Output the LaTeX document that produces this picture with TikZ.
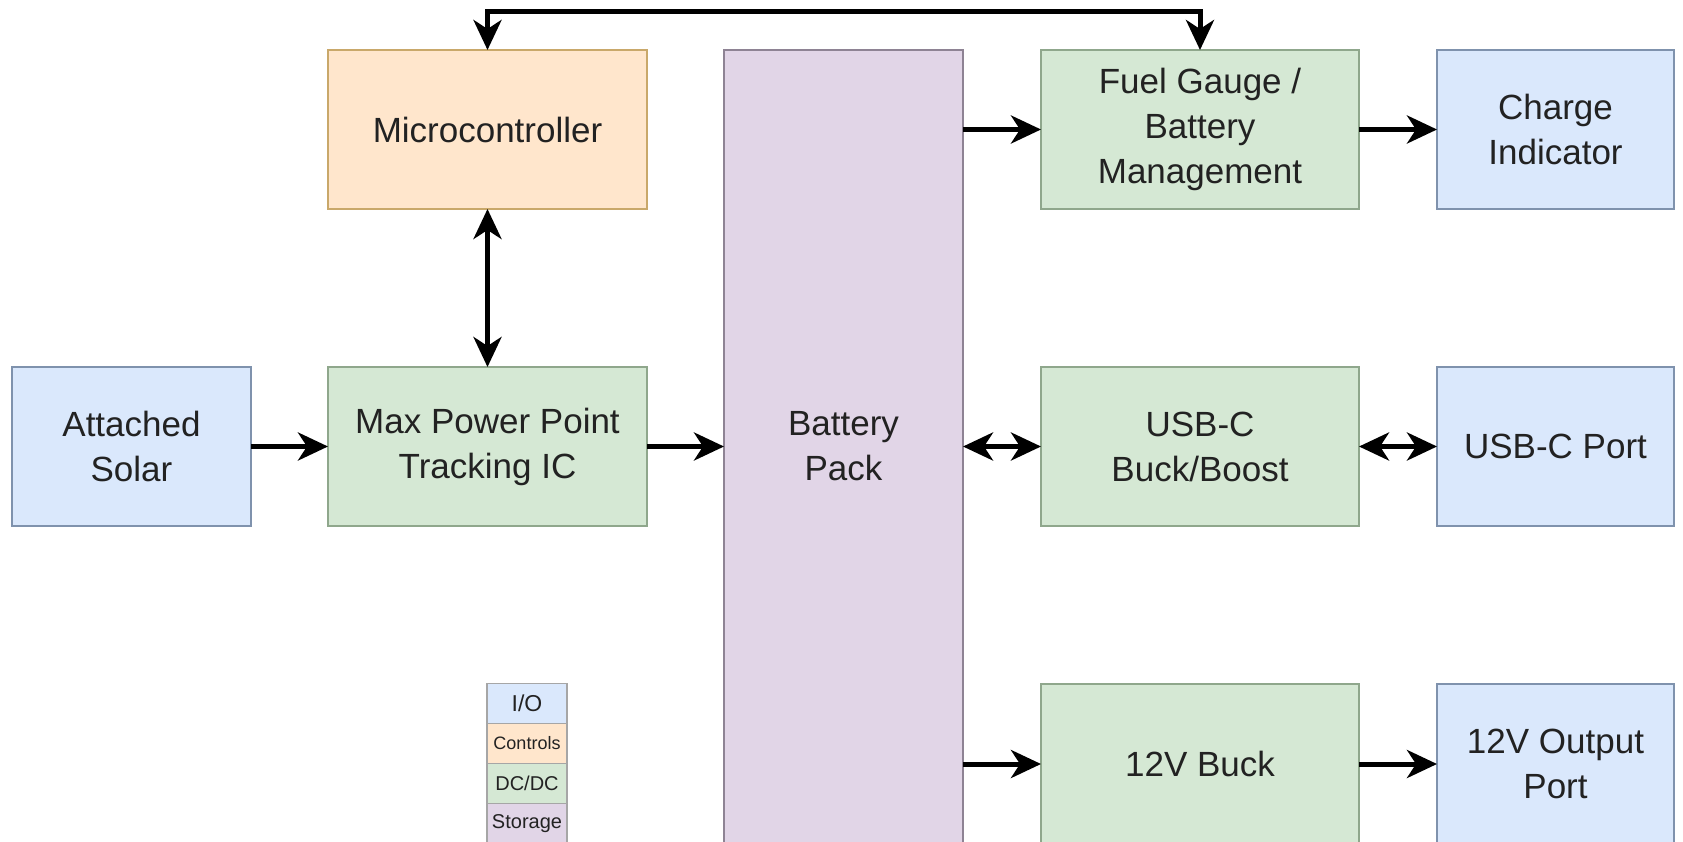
\documentclass[tikz,border=0pt]{standalone}
\usepackage{fontspec}
\setmainfont{Liberation Sans}
\usetikzlibrary{arrows.meta}
\definecolor{iofill}{HTML}{DAE8FC}\definecolor{iodraw}{HTML}{7F92AD}
\definecolor{ctfill}{HTML}{FFE6CC}\definecolor{ctdraw}{HTML}{C9A86A}
\definecolor{dcfill}{HTML}{D5E8D4}\definecolor{dcdraw}{HTML}{8FA78C}
\definecolor{stfill}{HTML}{E1D5E7}\definecolor{stdraw}{HTML}{8E8394}
\definecolor{txt}{HTML}{222222}
\tikzset{
  blk/.style={draw, line width=2pt, inner sep=0pt, outer sep=0pt, align=center,
    text=txt, font=\fontsize{35}{45}\selectfont},
  iob/.style={blk, fill=iofill, draw=iodraw},
  ctb/.style={blk, fill=ctfill, draw=ctdraw},
  dcb/.style={blk, fill=dcfill, draw=dcdraw},
  stb/.style={blk, fill=stfill, draw=stdraw},
  arr/.style={line width=5pt, -{Stealth[length=30pt,width=28pt,inset=9pt]}},
  darr/.style={line width=5pt, {Stealth[length=30pt,width=28pt,inset=9pt]}-{Stealth[length=30pt,width=28pt,inset=9pt]}},
  leg/.style={draw=gray!70, line width=1.5pt, inner sep=0pt, outer sep=0pt,
    minimum width=80pt, minimum height=40pt, text=txt}
}
\begin{document}
\begin{tikzpicture}[x=1pt,y=-1pt]
\useasboundingbox (0,0) rectangle (1683,842);
\begin{scope}
\clip (0,0) rectangle (1683,842);
% row 1
\node[ctb, minimum width=319pt, minimum height=159pt] (micro) at (487.5,129.5) {Microcontroller};
\node[stb, minimum width=239pt, minimum height=796pt] (bat) at (843.5,448) {};
\node[blk, draw=none, fill=none] (batlbl) at (843.5,446.5) {Battery\\Pack};
\node[dcb, minimum width=318pt, minimum height=159pt] (fuel) at (1200,129.5) {Fuel Gauge /\\Battery\\Management};
\node[iob, minimum width=237pt, minimum height=159pt] (charge) at (1555.5,129.5) {Charge\\Indicator};
% row 2
\node[iob, minimum width=239pt, minimum height=159pt] (solar) at (131.5,446.5) {Attached\\Solar};
\node[dcb, minimum width=319pt, minimum height=159pt] (mppt) at (487.5,446.5) {Max Power Point\\Tracking IC};
\node[dcb, minimum width=318pt, minimum height=159pt] (usbbb) at (1200,446.5) {USB-C\\Buck/Boost};
\node[iob, minimum width=237pt, minimum height=159pt] (usbport) at (1555.5,446.5) {USB-C Port};
% row 3
\node[dcb, minimum width=318pt, minimum height=160pt] (buck) at (1200,764) {12V Buck};
\node[iob, minimum width=237pt, minimum height=160pt] (out12) at (1555.5,764) {12V Output\\Port};
% legend
\node[leg, fill=iofill, font=\fontsize{23}{26}\selectfont] (lio) at (527,703.5) {I/O};
\node[leg, fill=ctfill, font=\fontsize{18}{22}\selectfont] (lct) at (527,743.5) {Controls};
\node[leg, fill=dcfill, font=\fontsize{20}{24}\selectfont] (ldc) at (527,783.5) {DC/DC};
\node[leg, fill=stfill, font=\fontsize{20}{24}\selectfont] (lst) at (527,823.5) {Storage};
\end{scope}
% connectors
\coordinate (top) at (845,12);
\draw[darr] (micro.north) |- (top) -| (fuel.north);
\draw[darr] (micro.south) -- (mppt.north);
\draw[arr] (solar.east) -- (mppt.west);
\draw[arr] (mppt.east) -- (bat.west |- mppt.east);
\draw[arr] (bat.east |- fuel.west) -- (fuel.west);
\draw[arr] (fuel.east) -- (charge.west);
\draw[darr] (bat.east |- usbbb.west) -- (usbbb.west);
\draw[darr] (usbbb.east) -- (usbport.west);
\draw[arr] (bat.east |- buck.west) -- (buck.west);
\draw[arr] (buck.east) -- (out12.west);
\end{tikzpicture}
\end{document}
